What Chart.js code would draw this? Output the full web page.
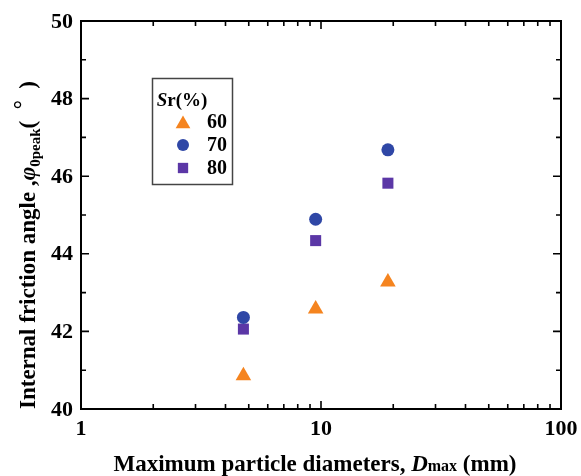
<!DOCTYPE html>
<html>
<head>
<meta charset="utf-8">
<script src="https://cdn.jsdelivr.net/npm/chart.js@4/dist/chart.umd.min.js"></script>
<style>
  html, body { margin: 0; padding: 0; background: #fff; }
  #wrap { width: 581px; height: 476px; }
</style>
</head>
<body>
<div id="wrap"><canvas id="chart" width="581" height="476"></canvas></div>
<script>
// Dmax (mm) vs peak internal friction angle, per degree of saturation Sr
const sizes = [4.75, 9.5, 19];
const sr60 = [40.86, 42.58, 43.27];
const sr70 = [42.36, 44.89, 46.68];
const sr80 = [42.06, 44.34, 45.82];
const xTicks = [1, 10, 100];
const yTicks = [40, 42, 44, 46, 48, 50];
const seriesNames = ["60", "70", "80"];

const FONT = "'Liberation Serif', 'Times New Roman', serif";

const series = [
  { label: seriesNames[0], data: sr60, style: "triangle", radius: 9, color: "#f5841f" },
  { label: seriesNames[1], data: sr70, style: "circle", radius: 6.5, color: "#2f47a6" },
  { label: seriesNames[2], data: sr80, style: "rect", radius: 7.8, color: "#5b37a6" },
];

// frame, inward ticks and tick labels
const framePlugin = {
  id: "frame",
  beforeDatasetsDraw(chart) {
    const { ctx, chartArea: a } = chart;
    const xs = chart.scales.x, ys = chart.scales.y;
    ctx.save();
    ctx.strokeStyle = "#000";
    ctx.lineWidth = 2;
    ctx.strokeRect(a.left, a.top, a.right - a.left, a.bottom - a.top);

    ctx.lineWidth = 1.6;
    ctx.beginPath();
    // x ticks (log): majors at decades, minors 2..9
    for (let d = 1; d < 100; d *= 10) {
      for (let m = 1; m <= 10; m++) {
        const v = d * m;
        if (v > 100) continue;
        const px = xs.getPixelForValue(v);
        const len = (m === 1 || m === 10) ? 8 : 5;
        ctx.moveTo(px, a.bottom); ctx.lineTo(px, a.bottom - len);
        ctx.moveTo(px, a.top); ctx.lineTo(px, a.top + len);
      }
    }
    // y ticks: majors every 2, minors every 1
    for (let v = 40; v <= 50; v++) {
      const py = ys.getPixelForValue(v);
      const len = v % 2 === 0 ? 8 : 5;
      ctx.moveTo(a.left, py); ctx.lineTo(a.left + len, py);
      ctx.moveTo(a.right, py); ctx.lineTo(a.right - len, py);
    }
    ctx.stroke();

    ctx.fillStyle = "#000";
    ctx.font = "bold 22px " + FONT;
    ctx.textAlign = "right";
    ctx.textBaseline = "middle";
    yTicks.forEach((v) => ctx.fillText(String(v), a.left - 8, ys.getPixelForValue(v) + 1));
    ctx.textAlign = "center";
    ctx.textBaseline = "alphabetic";
    xTicks.forEach((v) => ctx.fillText(String(v), xs.getPixelForValue(v), a.bottom + 26));

    // x title
    const parts = [
      { t: "Maximum particle diameters, ", f: "bold 23px " },
      { t: "D", f: "italic bold 23px " },
      { t: "max", f: "bold 16px " },
      { t: " (mm)", f: "bold 23px " },
    ];
    drawRun(ctx, parts, 315, 471);

    // y title (rotated)
    ctx.save();
    ctx.translate(35, 245);
    ctx.rotate(-Math.PI / 2);
    const yparts = [
      { t: "Internal friction angle ,", f: "bold 23px " },
      { t: "\u03c6", f: "italic bold 23px " },
      { t: "0peak", f: "bold 15px ", dy: 5 },
      { t: "(  ", f: "bold 23px " },
      { t: "\u00b0", f: "bold 23px ", dy: -5 },
      { t: "  )", f: "bold 23px " },
    ];
    drawRun(ctx, yparts, 0, 0);
    ctx.restore();
    ctx.restore();
  },
  afterDraw(chart) {
    const { ctx } = chart;
    ctx.save();
    ctx.strokeStyle = "#444";
    ctx.lineWidth = 1.5;
    ctx.strokeRect(152.5, 78.5, 80, 106);
    ctx.fillStyle = "#000";
    drawRun(ctx, [
      { t: "S", f: "italic bold 19px " },
      { t: "r(%)", f: "bold 19px " },
    ], 182, 106);
    const ys = [122, 145, 168];
    series.forEach((s, i) => {
      const cy = s.style === "triangle" ? ys[i] + 2 : ys[i];
      ctx.fillStyle = s.color;
      ctx.strokeStyle = s.color;
      Chart.helpers.drawPoint(ctx, { pointStyle: s.style, radius: s.radius - 0.5, rotation: 0, borderWidth: 0 }, 183, cy);
      ctx.fillStyle = "#000";
      ctx.font = "bold 20px " + FONT;
      ctx.textAlign = "left";
      ctx.textBaseline = "middle";
      ctx.fillText(s.label, 207, ys[i] + 1);
    });
    ctx.restore();
  },
};

// draws mixed-font text centred horizontally on cx, baseline at by
function drawRun(ctx, parts, cx, by) {
  let total = 0;
  parts.forEach((p) => { ctx.font = p.f + FONT; p.w = ctx.measureText(p.t).width; total += p.w; });
  let x = cx - total / 2;
  ctx.textAlign = "left";
  ctx.textBaseline = "alphabetic";
  parts.forEach((p) => {
    ctx.font = p.f + FONT;
    ctx.fillText(p.t, x, by + (p.dy || 0));
    x += p.w;
  });
}

new Chart(document.getElementById("chart"), {
  type: "scatter",
  data: {
    datasets: series.map((s) => ({
      label: s.label,
      data: sizes.map((x, i) => ({ x, y: s.data[i] })),
      pointStyle: s.style,
      pointRadius: s.radius,
      pointHoverRadius: s.radius,
      backgroundColor: s.color,
      borderColor: s.color,
      borderWidth: 0,
    })),
  },
  options: {
    responsive: false,
    animation: false,
    layout: { padding: { left: 81, top: 21, right: 20, bottom: 67 } },
    plugins: { legend: { display: false }, tooltip: { enabled: false } },
    scales: {
      x: { type: "logarithmic", min: 1, max: 100, display: false },
      y: { type: "linear", min: 40, max: 50, display: false },
    },
  },
  plugins: [framePlugin],
});
</script>
</body>
</html>
